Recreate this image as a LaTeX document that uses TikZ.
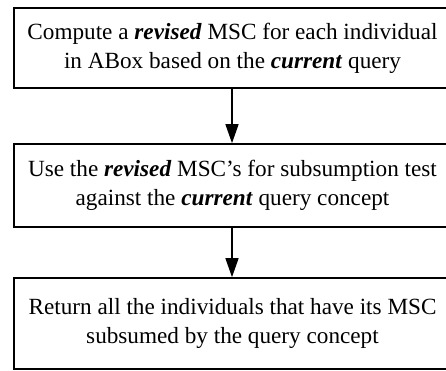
\documentclass[tikz,border=0pt]{standalone}
\usepackage{fontspec}
\setmainfont{Liberation Serif}
\usetikzlibrary{arrows.meta}
\begin{document}
\begin{tikzpicture}[x=1pt,y=1pt,
  box/.style={draw,line width=1.6pt,minimum width=437pt,align=center,inner sep=0pt,
    font=\fontsize{23.2}{29}\selectfont},
  conn/.style={line width=1.3pt,-{Triangle[length=19pt,width=13pt]}}]
\useasboundingbox (0,0) rectangle (446,371);
\node[box,minimum height=80pt] (a) at (232.5,323) {Compute a \textbf{\textit{revised}} MSC for each individual\\in ABox based on the \textbf{\textit{current}} query};
\node[box,minimum height=83pt] (b) at (232.5,185.5) {Use the \textbf{\textit{revised}} MSC’s for subsumption test\\against the \textbf{\textit{current}} query concept};
\node[box,minimum height=91pt] (c) at (232.5,47.5) {Return all the individuals that have its MSC\\subsumed by the query concept};
\draw[conn] (a.south -| 232,0) -- (b.north -| 232,0);
\draw[conn] (b.south -| 232,0) -- (c.north -| 232,0);
\end{tikzpicture}
\end{document}
